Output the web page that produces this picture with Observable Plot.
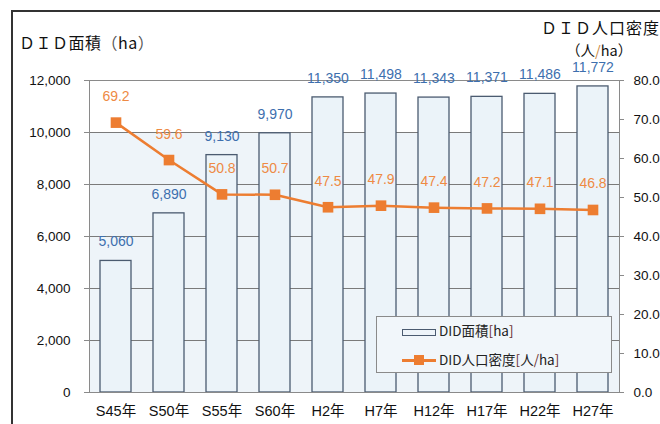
<!DOCTYPE html>
<html>
<head>
<meta charset="utf-8">
<script src="https://cdn.jsdelivr.net/npm/d3@7"></script>
<script src="https://cdn.jsdelivr.net/npm/@observablehq/plot@0.6"></script>
<style>
  html, body { margin: 0; padding: 0; background: #fff; }
  #wrap { position: relative; width: 660px; height: 424px; overflow: hidden;
          font-family: "Liberation Sans", "Noto Sans CJK JP", sans-serif; }
  #frame { position: absolute; left: 11px; top: 10px; width: 700px; height: 500px;
           border-left: 2px solid #333; border-top: 2px solid #333; }
  #chart { position: absolute; left: 0; top: 0; }
  .ttl { position: absolute; font-family: "Noto Sans CJK JP", sans-serif; font-size: 16px; color: #111; white-space: nowrap; line-height: 1; }
  #legend { position: absolute; left: 376px; top: 316px; width: 234px; height: 55px;
            border: 1px solid #8a8a8a; background: #f1f6fa; }
  .lg { position: absolute; left: 62px; font-family: "Noto Sans CJK JP", sans-serif; font-size: 13.5px; color: #222; white-space: nowrap; line-height: 1; }
  .br { color: #6a2f2f; }
</style>
</head>
<body>
<div id="wrap">
  <div id="frame"></div>
  <div id="chart"></div>
  <div class="ttl" style="left:19px; top:34px; letter-spacing:0.5px">ＤＩＤ面積<span style="color:#555">（</span>ha<span style="color:#555">）</span></div>
  <div class="ttl" style="left:541px; top:19px; letter-spacing:1px">ＤＩＤ人口密度</div>
  <div class="ttl" style="left:566px; top:43px; font-size:14.5px">（人<span style="color:#c9883f">/</span>ha）</div>
  <div id="legend">
    <div style="position:absolute; left:25px; top:12px; width:32px; height:5px; border:1px solid #4b5b70; background:#eef4f9"></div>
    <div class="lg" style="top:7px">DID面積<span class="br">[</span>ha<span class="br">]</span></div>
    <div style="position:absolute; left:25px; top:42px; width:34px; height:3px; background:#ed7d31"></div>
    <div style="position:absolute; left:37px; top:38px; width:10px; height:10px; background:#ed7d31"></div>
    <div class="lg" style="top:36px">DID人口密度<span class="br">[</span>人<span class="br">/</span>ha<span class="br">]</span></div>
  </div>
</div>
<script>
const categories = ["S45年","S50年","S55年","S60年","H2年","H7年","H12年","H17年","H22年","H27年"];
const areaHa = [5060, 6890, 9130, 9970, 11350, 11498, 11343, 11371, 11486, 11772];
const densityPerHa = [69.2, 59.6, 50.8, 50.7, 47.5, 47.9, 47.4, 47.2, 47.1, 46.8];
const leftTicks = [0, 2000, 4000, 6000, 8000, 10000, 12000];
const rightTicks = [0, 10, 20, 30, 40, 50, 60, 70, 80];

const scaleRatio = 12000 / 80;
const rows = categories.map((c, i) => ({cat: c, area: areaHa[i], density: densityPerHa[i]}));
const fmt = d3.format(",");
const font = "'Liberation Sans', 'Noto Sans CJK JP', sans-serif";

const chart = Plot.plot({
  width: 660,
  height: 424,
  marginLeft: 89,
  marginRight: 41,
  marginTop: 80,
  marginBottom: 32,
  style: {fontFamily: font, fontSize: "13.5px", background: "transparent", color: "#111", overflow: "visible"},
  x: {domain: categories, paddingInner: 0.415, paddingOuter: 0.2075, axis: null, label: null},
  y: {domain: [0, 12000], axis: null, label: null},
  marks: [
    Plot.rect([0], {y1: 0, y2: 10000, fill: "#eef4f9"}),
    Plot.gridY(leftTicks, {stroke: "#7a7a7a", strokeOpacity: 1, strokeWidth: 1}),
    Plot.barY(rows, {x: "cat", y: "area", fill: "#ebf3f9", stroke: "#4b5b70", strokeWidth: 1.3}),
    Plot.frame({stroke: "#8a8a8a"}),
    Plot.axisY(leftTicks, {anchor: "left", label: null, tickSize: 5, tickPadding: 14, tickFormat: fmt, stroke: "#8a8a8a", fontSize: 13.5}),
    Plot.axisY(rightTicks.map(v => v * scaleRatio), {anchor: "right", label: null, tickSize: 4, tickPadding: 10, tickFormat: d => (d / scaleRatio).toFixed(1), stroke: "#8a8a8a", fontSize: 13.5}),
    Plot.axisX({label: null, tickSize: 0, tickPadding: 13, fontSize: 14.5}),
    Plot.line(rows, {x: "cat", y: d => d.density * scaleRatio, stroke: "#ed7d31", strokeWidth: 2.5}),
    Plot.dot(rows, {x: "cat", y: d => d.density * scaleRatio, symbol: "square", r: 6, fill: "#ed7d31", stroke: "none"}),
    Plot.text(rows, {x: "cat", y: "area", text: d => fmt(d.area), dy: -19, fill: "#3d6fae", fontSize: 14}),
    Plot.text(rows, {x: "cat", y: d => d.density * scaleRatio, text: d => d.density.toFixed(1), dy: -26, fill: "#ee8a44", fontSize: 14})
  ]
});
document.getElementById("chart").appendChild(chart);
</script>
</body>
</html>
